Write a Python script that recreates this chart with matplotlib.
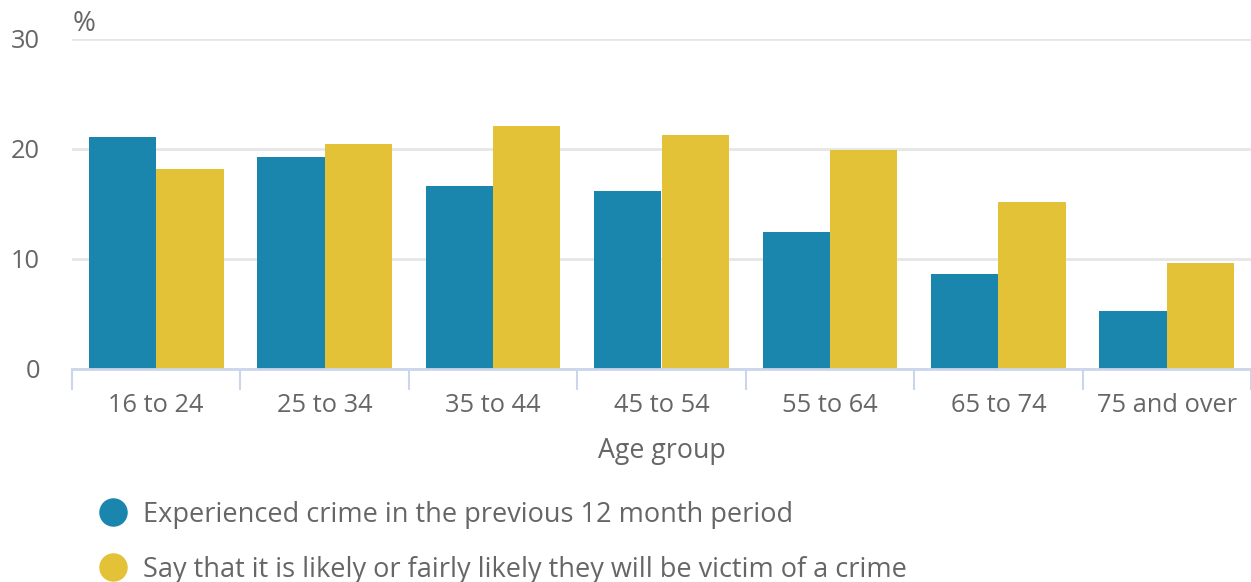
import numpy as np
import matplotlib.pyplot as plt
from matplotlib.lines import Line2D

# crime survey by age group
age_groups = ['16 to 24', '25 to 34', '35 to 44', '45 to 54', '55 to 64', '65 to 74', '75 and over']
experienced = [21.1, 19.3, 16.6, 16.2, 12.5, 8.6, 5.3]
likely_victim = [18.2, 20.5, 22.1, 21.3, 19.9, 15.2, 9.6]
series_names = ['Experienced crime in the previous 12 month period',
                'Say that it is likely or fairly likely they will be victim of a crime']

blue = '#1a85ad'
yellow = '#e3c237'
grey = '#666666'

plt.rcParams['font.family'] = ['Open Sans', 'DejaVu Sans']

fig = plt.figure(figsize=(12.51, 5.82), dpi=100)
ax = fig.add_axes([72/1251, 1-369/582, 1-72/1251, (369-39)/582])

x = np.arange(len(age_groups))
w = 0.4
ax.bar(x - w/2, experienced, w, color=blue, zorder=3)
ax.bar(x + w/2, likely_victim, w, color=yellow, zorder=3)

ax.set_xlim(-0.5, len(age_groups) - 0.5)
ax.set_ylim(0, 30)
ax.set_yticks([0, 10, 20, 30])
ax.yaxis.grid(True, color='#e6e6e6', linewidth=2, zorder=0)

ax.set_xticks(x)
ax.set_xticklabels(age_groups)
ax.set_xticks(np.arange(-0.5, len(age_groups)), minor=True)
ax.tick_params(axis='x', which='major', length=0, pad=17, labelsize=18.3, labelcolor=grey)
ax.tick_params(axis='x', which='minor', length=15, width=1.5, color='#ccd6eb')
ax.tick_params(axis='y', length=0, pad=23, labelsize=18.3, labelcolor=grey)

for s in ['top', 'right', 'left']:
    ax.spines[s].set_visible(False)
ax.spines['bottom'].set_color('#ccd6eb')
ax.spines['bottom'].set_linewidth(2)
ax.spines['bottom'].set_zorder(4)

ax.set_xlabel('Age group', fontsize=19.3, color=grey, labelpad=14)
fig.text(73/1251, 1-24/582, '%', fontsize=20, color=grey, va='center', ha='left')

handles = [Line2D([], [], marker='o', linestyle='', markersize=19.5, color=c) for c in (blue, yellow)]
fig.legend(handles, series_names, loc='upper left', bbox_to_anchor=(86/1251, 1-490/582),
           frameon=False, fontsize=19.5, labelcolor=grey, handletextpad=0.5,
           labelspacing=1.0, borderaxespad=0, handlelength=1.2)

fig.savefig('out.png', dpi=100)
